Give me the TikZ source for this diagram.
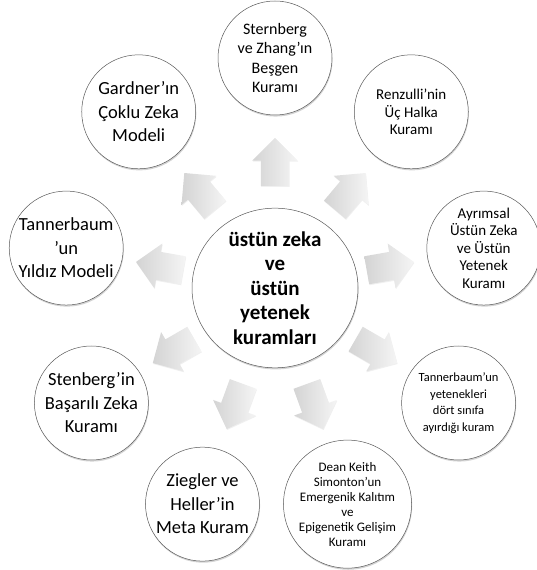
\documentclass[tikz,border=0pt]{standalone}
\usepackage{fontspec}
\setmainfont{Carlito}
\usetikzlibrary{positioning, calc, shapes.geometric, shapes.arrows, shadows}

\tikzset{
  theory/.style={circle, draw=black!65, line width=0.5pt, fill=white,
    minimum size=114pt, inner sep=0pt, align=center,
    drop shadow={shadow xshift=0.6pt, shadow yshift=-1.6pt, opacity=0.35}},
  hub/.style={ellipse, draw=black!65, line width=0.5pt, fill=white,
    minimum width=166pt, minimum height=147pt, inner sep=0pt, align=center,
    font=\fontsize{21}{24.5}\selectfont\bfseries,
    drop shadow={shadow xshift=0.6pt, shadow yshift=-1.6pt, opacity=0.35}},
  blockarrow/.style={single arrow, draw=none, inner xsep=0pt, inner ysep=14pt,
    minimum height=48pt, minimum width=45pt, single arrow head extend=8.5pt,
    shade, left color=black!17, right color=black!4,
    drop shadow={shadow xshift=0.4pt, shadow yshift=-1pt, opacity=0.12}},
  fbig/.style={font=\fontsize{18.5}{23.5}\selectfont},
  fmid/.style={font=\fontsize{16}{19.5}\selectfont},
  fsmall/.style={font=\fontsize{15}{17.5}\selectfont},
  ftiny/.style={font=\fontsize{12.5}{16.5}\selectfont},
  fdense/.style={font=\fontsize{13}{15}\selectfont}
}

\begin{document}
\begin{tikzpicture}[x=1pt, y=1pt]
	\useasboundingbox (0,0) rectangle (537,570);
	\coordinate (mid) at (275,282);

	% arrows round the hub
	\foreach \ang [count=\i] in {90,50,...,-230} {
		\node[blockarrow, rotate=\ang] (arr\i) at ($(mid)+(\ang:110pt and 119pt)$) {};
	}

	\node[hub] (hub) at (mid) {üstün zeka\\ve\\üstün\\yetenek\\kuramları};

	% the nine theories
	\node[theory, fmid] (sternberg) at ($(mid)+(90:212pt and 230pt)$) {Sternberg\\ve Zhang’ın\\Beşgen\\Kuramı};
	\node[theory, fsmall] (renzulli) at ($(mid)+(50:212pt and 230pt)$) {Renzulli’nin\\Üç Halka\\Kuramı};
	\node[theory, fsmall] (ayrimsal) at ($(mid)+(10:212pt and 230pt)$) {Ayrımsal\\Üstün Zeka\\ve Üstün\\Yetenek\\Kuramı};
	\node[theory, ftiny] (dortsinif) at ($(mid)+(-30:212pt and 230pt)$) {Tannerbaum’un\\yetenekleri\\dört sınıfa\\ayırdığı kuram};
	\node[theory, fdense] (simonton) at ($(mid)+(-70:212pt and 230pt)$) {Dean Keith\\Simonton’un\\Emergenik Kalıtım\\ve\\Epigenetik Gelişim\\Kuramı};
	\node[theory, fbig] (ziegler) at ($(mid)+(-110:212pt and 230pt)$) {Ziegler ve\\Heller’in\\Meta Kuram};
	\node[theory, fbig] (stenberg) at ($(mid)+(-150:212pt and 230pt)$) {Stenberg’in\\Başarılı Zeka\\Kuramı};
	\node[theory, fbig] (yildiz) at ($(mid)+(170:212pt and 230pt)$) {Tannerbaum\\’un\\Yıldız Modeli};
	\node[theory, fbig] (gardner) at ($(mid)+(130:212pt and 230pt)$) {Gardner’ın\\Çoklu Zeka\\Modeli};
\end{tikzpicture}
\end{document}
